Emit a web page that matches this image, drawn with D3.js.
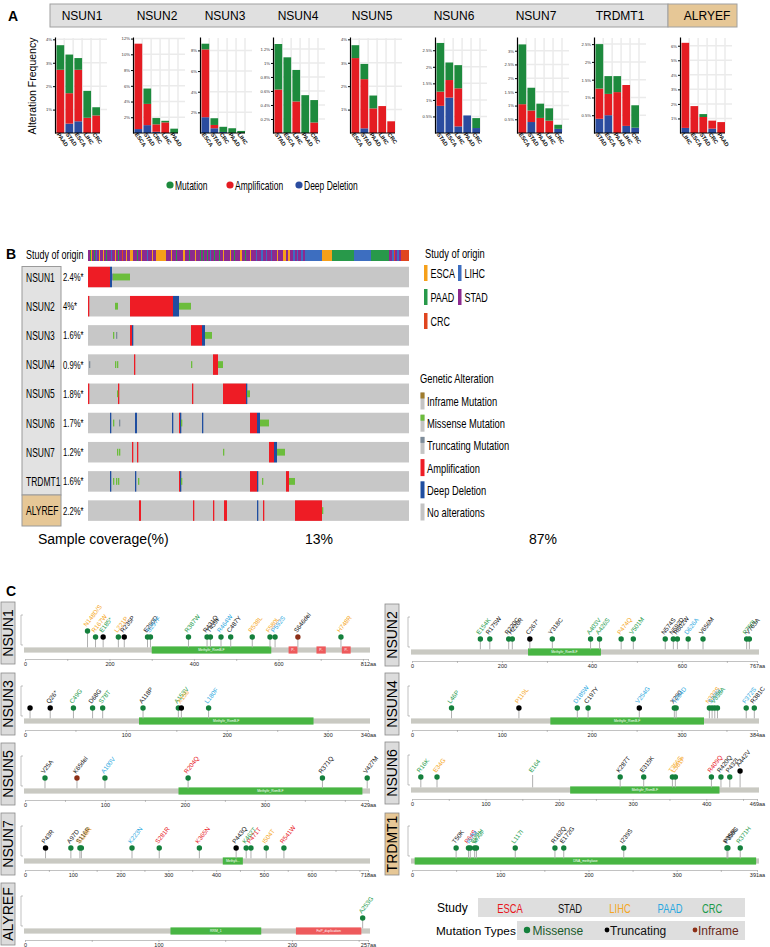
<!DOCTYPE html>
<html>
<head>
<meta charset="utf-8">
<script src="https://cdn.jsdelivr.net/npm/d3@7"></script>
<style>
  body { margin: 0; background: #fff; }
  svg text { font-family: "Liberation Sans", Arial, sans-serif; }
</style>
</head>
<body>
<svg id="fig" width="770" height="947"></svg>
<script>
////////////////////////////////////////////////////////////////////////
// Data

// Panel A: alteration frequency (%) per gene, studies in plotted order
let genesA = ["NSUN1", "NSUN2", "NSUN3", "NSUN4", "NSUN5", "NSUN6", "NSUN7", "TRDMT1", "ALRYEF"];
let studiesA = [
  ["PAAD", "STAD", "ESCA", "LIHC", "CRC"],
  ["ESCA", "STAD", "CRC", "LIHC", "PAAD"],
  ["ESCA", "STAD", "CRC", "PAAD", "LIHC"],
  ["STAD", "ESCA", "LIHC", "PAAD", "CRC"],
  ["ESCA", "STAD", "PAAD", "LIHC", "CRC"],
  ["STAD", "ESCA", "LIHC", "PAAD", "CRC"],
  ["ESCA", "STAD", "PAAD", "LIHC", "CRC"],
  ["STAD", "ESCA", "PAAD", "LIHC", "CRC"],
  ["LIHC", "ESCA", "STAD", "CRC", "PAAD"]
];
let deepDelA = [
  [0, 0.4, 0.5, 0, 0],
  [0.5, 1.0, 0.15, 0, 0],
  [1.53, 0.46, 0.1, 0, 0],
  [0, 0, 0, 0, 0],
  [0, 0.2, 0, 0, 0],
  [0.82, 1.07, 0.2, 0.53, 0.15],
  [0, 0.4, 0, 0, 0.15],
  [0.4, 0.5, 0, 0.2, 0.15],
  [0.35, 0, 0, 0.3, 0]
];
let ampA = [
  [2.7, 1.3, 2.2, 0.65, 0.75],
  [10.85, 2.7, 0.95, 1.35, 0],
  [6.57, 0.32, 0, 0, 0],
  [0.62, 0, 0.45, 0, 0.15],
  [3.2, 2.1, 1.05, 1.15, 0.5],
  [0.43, 0.53, 1.15, 0, 0],
  [1.05, 0.42, 0.55, 0.45, 0],
  [0.85, 0.6, 1.15, 1.15, 0],
  [5.85, 1.85, 1.1, 0.55, 0.75]
];
let mutA = [
  [1.05, 1.65, 0.5, 1.15, 0.35],
  [0, 1.95, 0.8, 0.2, 0.55],
  [0.55, 0.65, 0.5, 0.46, 0.2],
  [0.65, 1.08, 0.45, 0.54, 0.32],
  [0.55, 0.65, 0.55, 0, 0],
  [1.47, 0.53, 0.7, 0, 0.3],
  [2.18, 0.83, 0.52, 0.45, 0.15],
  [1.25, 0.5, 0.45, 0, 0.63],
  [0, 0, 0.2, 0, 0]
];
let ticksA = [
  [1, 2, 3, 4],
  [2, 4, 6, 8, 10, 12],
  [2, 4, 6, 8],
  [0.2, 0.4, 0.6, 0.8, 1, 1.2],
  [1, 2, 3, 4],
  [0.5, 1, 1.5, 2, 2.5],
  [0.5, 1, 1.5, 2, 2.5, 3],
  [0.5, 1, 1.5, 2, 2.5],
  [1, 2, 3, 4, 5, 6]
];
let yMaxA = [4.1, 12.2, 9.3, 1.37, 4.1, 2.9, 3.5, 2.7, 6.6];
let legendA = ["Mutation", "Amplification", "Deep Deletion"];

// Panel B: oncoprint
let genesB = ["NSUN1", "NSUN2", "NSUN3", "NSUN4", "NSUN5", "NSUN6", "NSUN7", "TRDMT1", "ALYREF"];
let pctB = ["2.4%*", "4%*", "1.6%*", "0.9%*", "1.8%*", "1.7%*", "1.2%*", "1.6%*", "2.2%*"];
let nSamples = 321;
// study of origin, run-length [study, number of samples]
let originRuns = [
  ["STAD",2],["PAAD",1],["ESCA",1],["STAD",2],["PAAD",1],["STAD",1],["LIHC",1],["STAD",2],["ESCA",1],
  ["STAD",3],["ESCA",1],["STAD",2],["PAAD",1],["STAD",4],["LIHC",1],["STAD",3],["ESCA",1],["STAD",2],
  ["PAAD",1],["STAD",3],["CRC",1],["STAD",3],["ESCA",1],["STAD",3],
  ["ESCA",3],
  ["STAD",4],["PAAD",1],["STAD",3],["ESCA",1],["STAD",5],["LIHC",1],["STAD",4],["ESCA",1],["STAD",3],
  ["ESCA",10],
  ["STAD",5],["ESCA",1],["STAD",4],["PAAD",1],["STAD",6],["ESCA",2],["STAD",4],["PAAD",1],["STAD",5],
  ["ESCA",1],["STAD",4],
  ["PAAD",1],["STAD",2],["PAAD",1],["STAD",3],["PAAD",1],["STAD",2],["LIHC",1],["STAD",3],["PAAD",1],
  ["STAD",4],["PAAD",1],["STAD",3],["ESCA",1],["STAD",2],
  ["STAD",4],["ESCA",1],["STAD",3],["PAAD",1],["STAD",5],["ESCA",2],["STAD",3],["PAAD",1],["STAD",4],
  ["ESCA",1],["STAD",2],
  ["STAD",3],["LIHC",1],["STAD",4],["LIHC",2],["STAD",3],["LIHC",1],["STAD",4],["LIHC",1],["STAD",5],
  ["ESCA",1],["STAD",5],
  ["ESCA",3],["STAD",2],["ESCA",2],
  ["STAD",3],["LIHC",2],["STAD",2],["LIHC",1],["STAD",3],["LIHC",2],["STAD",2],
  ["LIHC",17],["ESCA",10],["PAAD",22],["LIHC",17],["PAAD",18],
  ["STAD",3],["LIHC",2],["CRC",1],["STAD",2],["LIHC",2],["STAD",2],["CRC",2],
  ["CRC",6]
];
// alteration events per gene: [first sample, number of samples, type]
let eventsB = [
  [[0,22,"amp"],[22,2,"del"],[24,1,"trunc"],[25,17,"mis"]],
  [[0,1,"amp"],[27,3,"mis"],[42,43,"amp"],[85,6,"del"],[91,12,"mis"]],
  [[25,1,"mis"],[28,1,"trunc"],[42,2,"amp"],[44,1,"del"],[103,11,"amp"],[114,3,"del"],[117,7,"mis"]],
  [[1,1,"trunc"],[27,1,"mis"],[29,1,"mis"],[46,1,"amp"],[103,1,"mis"],[125,5,"amp"],[130,5,"mis"]],
  [[0,1,"amp"],[29,1,"mis"],[30,1,"amp"],[104,1,"amp"],[135,23,"amp"],[158,1,"del"],[159,3,"mis"]],
  [[22,1,"del"],[25,1,"mis"],[31,1,"trunc"],[47,2,"del"],[84,1,"del"],[91,1,"amp"],[92,1,"del"],
   [93,1,"mis"],[114,1,"del"],[162,7,"amp"],[169,3,"del"],[172,9,"mis"]],
  [[29,1,"mis"],[31,1,"mis"],[44,1,"amp"],[49,1,"amp"],[135,1,"mis"],[181,5,"amp"],[186,3,"del"],[189,8,"mis"]],
  [[22,1,"del"],[25,1,"mis"],[28,1,"mis"],[30,1,"mis"],[47,1,"del"],[50,1,"mis"],[91,1,"amp"],[92,1,"del"],
   [93,1,"mis"],[162,7,"amp"],[169,1,"del"],[174,1,"mis"],[198,3,"amp"],[201,6,"mis"]],
  [[51,2,"amp"],[105,1,"amp"],[125,1,"amp"],[136,3,"amp"],[169,1,"del"],[175,1,"amp"],[207,27,"amp"],[234,1,"mis"]]
];
let coverageB = ["13%", "87%"];
let originLegend = [["ESCA", "LIHC"], ["PAAD", "STAD"], ["CRC"]];
let alterLegend = [
  ["Inframe Mutation", "inf"], ["Missense Mutation", "mis"], ["Truncating Mutation", "trunc"],
  ["Amplification", "amp"], ["Deep Deletion", "del"], ["No alterations", "none"]
];

// Panel C: lollipop plots, mutations [aa position, label, study, type, count]
let proteins = [
  { gene: "NSUN1", len: 812, major: 200, minor: 100,
    domains: [[300, 583, "Methyltr_RsmB-F", "g"], [624, 645, "P..", "r"], [690, 712, "P..", "r"], [750, 771, "P..", "r"]],
    muts: [[148,"N148D/S","LIHC","mis",2],[167,"R167W","LIHC","mis",1],[185,"E185*","CRC","trunc",1],
           [221,"L221P","LIHC","mis",1],[235,"R235P","STAD","trunc",1],[290,"E290D","STAD","mis",1],
           [297,"S297F","PAAD","mis",1],[387,"R387W","CRC","mis",1],[431,"R431Q","STAD","mis",1],
           [439,"T439I","STAD","mis",1],[464,"R464W","PAAD","mis",1],[487,"C487Y","STAD","mis",1],
           [538,"R538L","LIHC","mis",1],[580,"F580L","LIHC","mis",1],[592,"P592S","PAAD","mis",1],
           [646,"S646del","STAD","inf",1],[748,"H748R","LIHC","mis",1]] },
  { gene: "NSUN2", len: 767, major: 200, minor: 100,
    domains: [[258, 420, "Methyltr_RsmB-F", "g"]],
    muts: [[152,"E154K","CRC","mis",1],[173,"R175W","STAD","mis",1],[215,"R220C","STAD","mis",1],
           [223,"H226R","STAD","mis",1],[262,"C267*","STAD","trunc",1],[312,"Y318C","STAD","mis",1],
           [397,"A403V","CRC","mis",1],[417,"A426S","CRC","mis",1],[465,"P474Q","LIHC","mis",1],
           [492,"V501M","CRC","mis",1],[563,"N574S","STAD","mis",1],[581,"N592D","STAD","mis",1],
           [590,"R602W","STAD","mis",1],[614,"D626A","PAAD","mis",1],[647,"V656M","STAD","mis",1],
           [744,"P750L","CRC","mis",1],[750,"V763A","STAD","mis",1]] },
  { gene: "NSUN3", len: 340, major: 100, minor: 50,
    domains: [[113, 286, "Methyltr_RsmB-F", "g"]],
    muts: [[5,"","STAD","trunc",1],[25,"Q26*","STAD","trunc",1],[48,"C49G","CRC","mis",1],
           [67,"D68G","STAD","mis",1],[77,"S78T","CRC","mis",1],[117,"A118P","STAD","mis",1],
           [152,"A153V","CRC","mis",1],[155,"X156","LIHC","trunc",1],[182,"L180F","PAAD","mis",1]] },
  { gene: "NSUN4", len: 384, major: 100, minor: 50,
    domains: [[154, 325, "Methyltr_RsmB-F", "g"]],
    muts: [[44,"L46P","CRC","mis",1],[119,"P119L","LIHC","trunc",1],[184,"D185W","PAAD","mis",1],
           [196,"C197Y","STAD","mis",1],[253,"V254G","PAAD","trunc",1],[292,"X290","STAD","mis",1],
           [294,"T294D","PAAD","mis",1],[331,"N333S","LIHC","mis",1],[334,"S335L","PAAD","mis",1],
           [337,"V338A","CRC","mis",1],[340,"","CRC","mis",1],[372,"F372S","PAAD","mis",1],
           [381,"R381C","STAD","mis",1]] },
  { gene: "NSUN5", len: 429, major: 100, minor: 50,
    domains: [[192, 422, "Methyltr_RsmB-F", "g"]],
    muts: [[25,"V25A","STAD","mis",1],[65,"K65del","STAD","inf",1],[100,"A100V","PAAD","mis",1],
           [204,"R204Q","ESCA","mis",1],[372,"R371Q","STAD","mis",1],[428,"V427M","STAD","mis",1]] },
  { gene: "NSUN6", len: 469, major: 100, minor: 50,
    domains: [[215, 418, "Methyltr_RsmB-F", "g"]],
    muts: [[12,"R16K","CRC","mis",1],[34,"E34G","LIHC","mis",1],[164,"E164","CRC","none",1],
           [283,"K287T","STAD","mis",1],[315,"E315K","STAD","mis",1],[354,"T356S","LIHC","mis",1],
           [358,"L361P","LIHC","mis",1],[407,"R409Q","ESCA","mis",1],[420,"R420Q","STAD","mis",1],
           [432,"P432L","STAD","mis",1],[446,"A442V","STAD","trunc",2]] },
  { gene: "NSUN7", len: 718, major: 100, minor: 50,
    domains: [[414, 456, "Methylt...", "g"]],
    muts: [[43,"P43R","STAD","trunc",1],[96,"A97D","STAD","mis",1],[115,"S116R","STAD","mis",1],
           [118,"S118R","LIHC","mis",1],[224,"K223N","PAAD","mis",1],[281,"S281R","ESCA","mis",1],
           [365,"K365N","ESCA","mis",1],[442,"P443Q","STAD","trunc",1],[463,"K462T","CRC","mis",1],
           [473,"P471T","ESCA","mis",1],[505,"I504T","LIHC","mis",1],[542,"R541W","ESCA","mis",1]] },
  { gene: "TRDMT1", len: 391, major: 100, minor: 50,
    domains: [[3, 390, "DNA_methylase", "g"]],
    muts: [[50,"T50K","STAD","mis",1],[64,"P64S","ESCA","mis",1],[66,"I67M","PAAD","mis",1],
           [71,"Q72H","CRC","mis",1],[73,"M73I","CRC","mis",1],[117,"L117I","CRC","mis",1],
           [162,"R162Q","STAD","mis",1],[172,"E172G","STAD","mis",1],[240,"I239S","STAD","mis",1],
           [357,"P358L","STAD","mis",1],[358,"P359S","STAD","mis",1],[372,"R371H","CRC","mis",1]] },
  { gene: "ALYREF", len: 257, major: 100, minor: 50,
    domains: [[109, 177, "RRM_1", "g"], [203, 252, "FoP_duplication", "r"]],
    muts: [[253,"A253G","CRC","mis",1]] }
];
let studyLegendC = ["ESCA", "STAD", "LIHC", "PAAD", "CRC"];
let typeLegendC = [["Missense", "mis"], ["Truncating", "trunc"], ["Inframe", "inf"]];

////////////////////////////////////////////////////////////////////////
// Colours and layout

let colA = { del: "#2b4c9f", amp: "#e41c22", mut: "#1d8a3d" };
let colB = { amp: "#ee1c25", del: "#1f4ea0", mis: "#6cbd3c", trunc: "#7d8c9a", inf: "#a07c2c", none: "#c4c4c4" };
let colStudy = { ESCA: "#f6a01a", LIHC: "#3d6ec0", PAAD: "#28994a", STAD: "#8c2a8f", CRC: "#e0451f" };
let colTextC = { ESCA: "#e8141b", STAD: "#111111", LIHC: "#f5a623", PAAD: "#2aa8e0", CRC: "#1b9a4a" };
let colDot = { mis: "#14803c", trunc: "#000000", inf: "#8c2f17" };
let tan = "#e6c796";

let chartLeftA = [55, 133, 200, 273, 350, 435, 517, 594, 680];
let headCenterA = [82, 157, 225, 298, 372, 454, 536, 620, 707];

let svg = d3.select("#fig");

// condensed text helper (the original uses a narrow face)
function narrow(g, x, y, str, size, sx, anchor) {
  return g.append("text")
    .attr("transform", "translate(" + x + "," + y + ") scale(" + sx + ",1)")
    .attr("font-size", size)
    .attr("text-anchor", anchor || "start")
    .text(str);
}

////////////////////////////////////////////////////////////////////////
// Panel A

function drawPanelA() {
  let g = svg.append("g");
  g.append("text").attr("x", 8).attr("y", 21).attr("font-size", 14).attr("font-weight", "bold").text("A");

  // gene header strip
  g.append("rect").attr("x", 50).attr("y", 4).attr("width", 618).attr("height", 23)
    .attr("fill", "#e0e0e0").attr("stroke", "#a0a0a0");
  g.append("rect").attr("x", 668).attr("y", 4).attr("width", 69).attr("height", 23)
    .attr("fill", tan).attr("stroke", "#a0a0a0");

  g.append("text").attr("transform", "translate(36,86) rotate(-90)")
    .attr("text-anchor", "middle").attr("font-size", 10.5).text("Alteration Frequency");

  genesA.forEach((gene, i) => {
    g.append("text").attr("x", headCenterA[i]).attr("y", 20).attr("text-anchor", "middle")
      .attr("font-size", 12).text(gene);

    let left = chartLeftA[i];
    let x = d3.scaleBand().domain(studiesA[i]).range([left + 1.5, left + 45]).paddingInner(0.14);
    let y = d3.scaleLinear().domain([0, yMaxA[i]]).range([133, 37]);
    let c = g.append("g");

    // faint grid behind the bars
    ticksA[i].forEach(t => {
      c.append("line").attr("x1", left + 2).attr("x2", left + 52)
        .attr("y1", y(t)).attr("y2", y(t)).attr("stroke", "#ebebeb").attr("stroke-width", 1.5);
    });
    studiesA[i].forEach(s => {
      c.append("line").attr("x1", x(s) + x.bandwidth()).attr("x2", x(s) + x.bandwidth())
        .attr("y1", 38).attr("y2", 132).attr("stroke", "#ebebeb").attr("stroke-width", 1.5);
    });

    // stacked bars: deep deletion, amplification, mutation
    let rows = studiesA[i].map((s, j) => ({ study: s, del: deepDelA[i][j], amp: ampA[i][j], mut: mutA[i][j] }));
    let stack = d3.stack().keys(["del", "amp", "mut"])(rows);
    c.selectAll("g.layer").data(stack).enter().append("g")
      .attr("fill", d => colA[d.key])
      .selectAll("rect").data(d => d).enter().append("rect")
      .attr("x", d => x(d.data.study))
      .attr("width", x.bandwidth())
      .attr("y", d => y(d[1]))
      .attr("height", d => y(d[0]) - y(d[1]));

    let ya = c.append("g").attr("transform", "translate(" + left + ",0)")
      .call(d3.axisLeft(y).tickValues(ticksA[i]).tickFormat(t => t + "%").tickSize(2).tickSizeOuter(0).tickPadding(1));
    ya.selectAll("text").attr("font-size", 4.2).attr("fill", "#333");
    ya.select(".domain").attr("stroke-width", 1.2);

    let xa = c.append("g").attr("transform", "translate(0,133)")
      .call(d3.axisBottom(x).tickSize(0).tickSizeOuter(0));
    xa.select(".domain").attr("stroke-width", 1.2).attr("d", "M" + left + ",0H" + (left + 45));
    xa.selectAll("text")
      .attr("font-size", 5.6).attr("font-weight", "bold").attr("fill", "#111")
      .attr("x", -1).attr("y", 2).attr("dy", "0.35em")
      .attr("transform", "rotate(55)").style("text-anchor", "start");
  });

  // legend
  let lx = [170, 230, 299];
  let lc = [colA.mut, colA.amp, colA.del];
  legendA.forEach((t, i) => {
    g.append("circle").attr("cx", lx[i]).attr("cy", 185).attr("r", 3.6).attr("fill", lc[i]);
    narrow(g, lx[i] + 5, 189.5, t, 12.5, 0.68);
  });
}

////////////////////////////////////////////////////////////////////////
// Panel B

function drawPanelB() {
  let g = svg.append("g");
  g.append("text").attr("x", 6).attr("y", 259).attr("font-size", 14).attr("font-weight", "bold").text("B");

  let xs = d3.scaleLinear().domain([0, nSamples]).range([88, 409]);
  let rowY = d3.scaleLinear().domain([0, 8]).range([277, 510.6]);
  let rh = 20.5;
  let w = d => Math.max(1.3, xs(d[0] + d[1]) - xs(d[0]));

  // study of origin track
  narrow(g, 26, 259, "Study of origin", 12.5, 0.72);
  let pos = 0;
  let runs = originRuns.map(r => { let o = { study: r[0], start: pos, n: r[1] }; pos += r[1]; return o; });
  g.selectAll("rect.origin").data(runs).enter().append("rect")
    .attr("x", d => xs(d.start)).attr("width", d => xs(d.start + d.n) - xs(d.start))
    .attr("y", 250).attr("height", 11)
    .attr("fill", d => colStudy[d.study]);

  // gene label column
  g.append("rect").attr("x", 22).attr("y", 266.5).attr("width", 39).attr("height", 228.5)
    .attr("fill", "#e2e2e2").attr("stroke", "#9a9a9a");
  g.append("rect").attr("x", 22).attr("y", 495).attr("width", 39).attr("height", 31)
    .attr("fill", tan).attr("stroke", "#9a9a9a");

  genesB.forEach((gene, i) => {
    let cy = rowY(i);
    narrow(g, 26, cy + 4.5, gene, 12.5, 0.68);
    narrow(g, 63, cy + 4, pctB[i], 11, 0.7);
    g.append("rect").attr("x", xs(0)).attr("width", xs(nSamples) - xs(0))
      .attr("y", cy - rh / 2).attr("height", rh).attr("fill", colB.none);
    // faint per-sample texture
    g.append("g").selectAll("line").data(d3.range(0, nSamples, 2)).enter().append("line")
      .attr("x1", d => xs(d)).attr("x2", d => xs(d))
      .attr("y1", cy - rh / 2).attr("y2", cy + rh / 2)
      .attr("stroke", "#ffffff").attr("stroke-opacity", 0.22).attr("stroke-width", 0.5);
    let ev = eventsB[i];
    let full = ev.filter(e => e[2] == "amp" || e[2] == "del");
    let small = ev.filter(e => !(e[2] == "amp" || e[2] == "del"));
    g.selectAll(null).data(full).enter().append("rect")
      .attr("x", d => xs(d[0])).attr("width", w)
      .attr("y", cy - rh / 2).attr("height", rh).attr("fill", d => colB[d[2]]);
    g.selectAll(null).data(small).enter().append("rect")
      .attr("x", d => xs(d[0])).attr("width", w)
      .attr("y", cy - rh / 6).attr("height", rh / 3).attr("fill", d => colB[d[2]]);
  });

  g.append("text").attr("x", 38).attr("y", 544).attr("font-size", 14).text("Sample coverage(%)");
  g.append("text").attr("x", 319).attr("y", 544).attr("text-anchor", "middle").attr("font-size", 14).text(coverageB[0]);
  g.append("text").attr("x", 543).attr("y", 544).attr("text-anchor", "middle").attr("font-size", 14).text(coverageB[1]);

  // study of origin legend
  narrow(g, 425, 258, "Study of origin", 13, 0.72);
  originLegend.forEach((row, r) => {
    let cy = 273 + r * 24;
    row.forEach((s, k) => {
      let x0 = 424 + k * 34;
      g.append("rect").attr("x", x0).attr("y", cy - 8).attr("width", 3.5).attr("height", 16).attr("fill", colStudy[s]);
      narrow(g, x0 + 6.5, cy + 4.5, s, 12.5, 0.72);
    });
  });

  // genetic alteration legend
  narrow(g, 420, 383, "Genetic Alteration", 13, 0.72);
  alterLegend.forEach((a, k) => {
    let cy = 401 + k * 22.2;
    g.append("rect").attr("x", 420.5).attr("y", cy - 8.5).attr("width", 4).attr("height", 17)
      .attr("fill", a[1] == "amp" || a[1] == "del" ? colB[a[1]] : colB.none);
    if (a[1] == "inf" || a[1] == "mis" || a[1] == "trunc") {
      g.append("rect").attr("x", 420.5).attr("y", cy - 8.5).attr("width", 4).attr("height", 6).attr("fill", colB[a[1]]);
    }
    narrow(g, 427, cy + 5, a[0], 13, 0.72);
  });
}

////////////////////////////////////////////////////////////////////////
// Panel C

function drawLollipop(p, lay) {
  let g = svg.append("g");
  let x = d3.scaleLinear().domain([0, p.len]).range([lay.x0, lay.x1]);
  let yB = lay.yB;

  // gene label box
  g.append("rect").attr("x", lay.bx).attr("y", yB - 48).attr("width", 14).attr("height", 62)
    .attr("fill", p.gene == "TRDMT1" ? tan : "#dcdcdc").attr("stroke", "#8a8a8a").attr("stroke-width", 0.8);
  g.append("text").attr("transform", "translate(" + (lay.bx + 12) + "," + (yB - 17) + ") rotate(-90)")
    .attr("text-anchor", "middle").attr("font-size", 14).text(p.gene);

  // small count axis
  let bx = lay.x0 - 4;
  g.append("path").attr("d", "M" + (bx + 2) + "," + (yB - 35) + "H" + bx + "V" + (yB - 5) + "H" + (bx + 2))
    .attr("fill", "none").attr("stroke", "#999").attr("stroke-width", 0.6);

  // backbone and domains
  g.append("rect").attr("x", lay.x0 - 1).attr("y", yB - 2.6).attr("width", lay.x1 - lay.x0 + 3).attr("height", 5.2)
    .attr("fill", "#c9c9c2");
  p.domains.forEach(d => {
    g.append("rect").attr("x", x(d[0])).attr("y", yB - 3.6).attr("width", x(d[1]) - x(d[0])).attr("height", 7.2)
      .attr("fill", d[3] == "g" ? "#48b543" : "#ee5a5c");
    g.append("text").attr("x", (x(d[0]) + x(d[1])) / 2).attr("y", yB + 1.2).attr("text-anchor", "middle")
      .attr("font-size", 3.4).attr("fill", "#fff").text(d[2]);
  });

  // position axis: labels every major step, the length at the end
  let ax = g.append("g").attr("transform", "translate(0," + (yB + 9) + ")")
    .call(d3.axisBottom(x).tickValues(d3.range(0, p.len, p.minor).concat([p.len])).tickSize(2).tickSizeOuter(0)
      .tickFormat(v => v == p.len ? v + "aa"
        : (v % p.major == 0 && p.len - v > p.major * 0.35 ? v : "")));
  ax.select(".domain").attr("stroke", "#999").attr("stroke-width", 0.6);
  ax.selectAll(".tick line").attr("stroke", "#999").attr("stroke-width", 0.6);
  ax.selectAll("text").attr("font-size", 5.5).attr("fill", "#222").attr("y", 3.5);

  // lollipops
  let headY = c => yB - 13 - (c - 1) * 6;
  p.muts.forEach(m => {
    let mx = x(m[0]);
    let hy = headY(m[4]);
    g.append("line").attr("x1", mx).attr("x2", mx).attr("y1", yB - 2.6).attr("y2", m[3] == "none" ? hy - 2 : hy)
      .attr("stroke", "#b0b0b0").attr("stroke-width", 1);
    if (m[3] != "none") {
      g.append("circle").attr("cx", mx).attr("cy", hy).attr("r", 2.7).attr("fill", colDot[m[3]]);
    }
    if (m[1]) {
      g.append("text").attr("transform", "translate(" + (mx - 1) + "," + (hy - 4) + ") rotate(-52)")
        .attr("font-size", 6.3).attr("fill", colTextC[m[2]]).text(m[1]);
    }
  });
}

function drawPanelC() {
  svg.append("text").attr("x", 6).attr("y", 596).attr("font-size", 14).attr("font-weight", "bold").text("C");

  let left = { x0: 25, x1: 368, bx: 1 };
  let right = { x0: 412, x1: 757, bx: 385 };
  let rowsY = { NSUN1: 650, NSUN2: 652, NSUN3: 721, NSUN4: 721, NSUN5: 791, NSUN6: 790,
                NSUN7: 861, TRDMT1: 861, ALYREF: 931 };
  let onLeft = ["NSUN1", "NSUN3", "NSUN5", "NSUN7", "ALYREF"];
  proteins.forEach(p => {
    let side = onLeft.includes(p.gene) ? left : right;
    drawLollipop(p, { x0: side.x0, x1: side.x1, bx: side.bx, yB: rowsY[p.gene] });
  });

  // legend
  let g = svg.append("g");
  g.append("text").attr("x", 437).attr("y", 912).attr("font-size", 12).text("Study");
  g.append("rect").attr("x", 478).attr("y", 898).attr("width", 267).attr("height", 19).attr("fill", "#dedede");
  let sx = [510, 570, 620, 670, 712];
  studyLegendC.forEach((s, i) => {
    narrow(g, sx[i], 912.5, s, 13, 0.72, "middle").attr("fill", colTextC[s]);
  });
  g.append("text").attr("x", 436).attr("y", 935).attr("font-size", 11.8).text("Mutation Types");
  g.append("rect").attr("x", 517).attr("y", 921).attr("width", 228).attr("height", 19).attr("fill", "#dedede");
  let tx = [527, 607, 695];
  let tcol = ["#1a5a2a", "#111", "#6a2a1a"];
  typeLegendC.forEach((t, i) => {
    g.append("circle").attr("cx", tx[i]).attr("cy", 930).attr("r", t[1] == "mis" ? 3.2 : 2.4).attr("fill", colDot[t[1]]);
    g.append("text").attr("x", tx[i] + (t[1] == "mis" ? 5.5 : 3)).attr("y", 934.5).attr("font-size", 12)
      .attr("fill", tcol[i]).text(t[0]);
  });
}

drawPanelA();
drawPanelB();
drawPanelC();
</script>
</body>
</html>
